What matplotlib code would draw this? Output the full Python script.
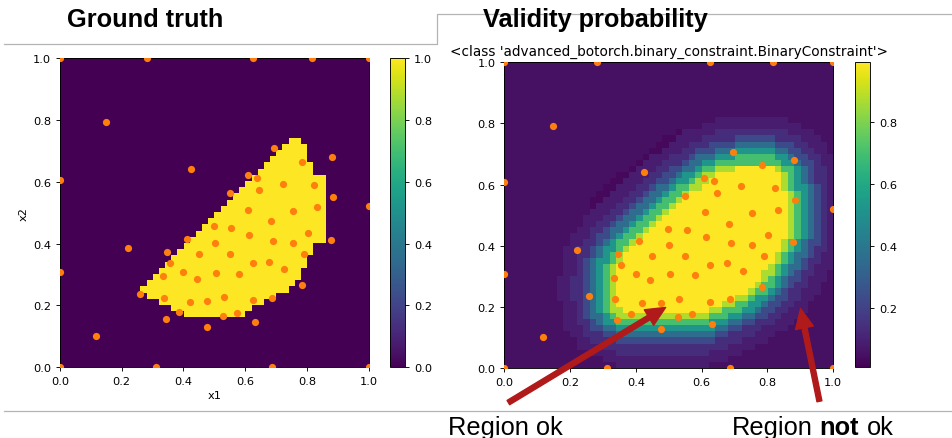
import numpy as np
import matplotlib
matplotlib.use('Agg')
import matplotlib.pyplot as plt
from matplotlib.path import Path
from matplotlib.patches import FancyArrowPatch

# sampled points (same in both panels)
pts_x = [0.0, 0.281, 0.626, 0.816, 1.0, 0.148, 0.424, 0.0, 0.694, 0.881, 0.784,
         0.608, 0.637, 0.721, 0.824, 0.646, 0.550, 0.883, 1.0, 0.832, 0.610,
         0.754, 0.684, 0.499, 0.555, 0.803, 0.612, 0.411, 0.879, 0.689, 0.501,
         0.754, 0.220, 0.346, 0.449, 0.550, 0.789, 0.355, 0.626, 0.677, 0.0,
         0.727, 0.400, 0.504, 0.580, 0.333, 0.444, 0.784, 0.258, 0.338, 0.531,
         0.687, 0.420, 0.475, 0.626, 0.384, 0.572, 0.528, 0.343, 0.632, 0.477,
         0.118, 0.0, 0.311, 0.687, 1.0]
pts_y = [1.0, 1.0, 1.0, 1.0, 1.0, 0.793, 0.640, 0.607, 0.708, 0.681, 0.665,
         0.621, 0.613, 0.594, 0.588, 0.572, 0.564, 0.550, 0.520, 0.518, 0.509,
         0.506, 0.472, 0.456, 0.452, 0.435, 0.429, 0.414, 0.412, 0.409, 0.401,
         0.401, 0.387, 0.372, 0.366, 0.366, 0.366, 0.338, 0.336, 0.342, 0.309,
         0.317, 0.309, 0.306, 0.303, 0.294, 0.287, 0.265, 0.237, 0.224, 0.226,
         0.224, 0.211, 0.213, 0.217, 0.178, 0.176, 0.167, 0.156, 0.145, 0.129,
         0.102, 0.0, 0.0, 0.0, 0.0]

# ground truth feasible region outline
gt_x = [0.76, 0.775, 0.795, 0.815, 0.835, 0.856, 0.856, 0.835, 0.815, 0.795,
        0.775, 0.755, 0.735, 0.695, 0.655, 0.61, 0.61, 0.405, 0.365, 0.325,
        0.285, 0.265, 0.265]
gt_y = [0.757, 0.74, 0.715, 0.655, 0.615, 0.61, 0.405, 0.405, 0.365, 0.33,
        0.285, 0.265, 0.245, 0.225, 0.205, 0.185, 0.163, 0.163, 0.185, 0.205,
        0.225, 0.245, 0.265]

# validity probability: outline of the yellow core, then bands going outward
core_x = [0.335, 0.35, 0.40, 0.46, 0.52, 0.58, 0.635, 0.70, 0.81, 0.845, 0.86,
          0.855, 0.82, 0.78, 0.72, 0.635, 0.57, 0.39, 0.345]
core_y = [0.26, 0.345, 0.41, 0.47, 0.53, 0.58, 0.625, 0.65, 0.65, 0.62, 0.52,
          0.44, 0.365, 0.295, 0.24, 0.195, 0.172, 0.172, 0.195]
band_dist = [0.0, 0.02, 0.04, 0.06, 0.08, 0.10, 0.13, 0.17]
band_prob = [0.99, 0.87, 0.70, 0.52, 0.36, 0.23, 0.14, 0.09]
bg_prob = 0.055
dark_x = [0.25, 0.55, 0.55, 0.40, 0.25]
dark_y = [0.55, 0.80, 0.62, 0.45, 0.45]
dark_prob = 0.03

ticks = [0.0, 0.2, 0.4, 0.6, 0.8, 1.0]

n = 50
c = (np.arange(n) + 0.5) / n
gx, gy = np.meshgrid(c, c)
cells = np.column_stack([gx.ravel(), gy.ravel()])

gt = Path(np.column_stack([gt_x, gt_y])).contains_points(cells).reshape(n, n).astype(float)

core = np.column_stack([core_x, core_y])
inside = Path(core).contains_points(cells)
a = core[None, :, :]
ab = np.roll(core, -1, axis=0)[None, :, :] - a
p = cells[:, None, :]
t = np.clip(((p - a) * ab).sum(-1) / (ab ** 2).sum(-1), 0, 1)
dmin = np.sqrt(((p - a - t[..., None] * ab) ** 2).sum(-1)).min(axis=1)
dist = np.where(inside, 0.0, dmin)

prob = np.full(n * n, bg_prob)
prob[Path(np.column_stack([dark_x, dark_y])).contains_points(cells)] = dark_prob
for dd, pv in reversed(list(zip(band_dist, band_prob))):
    prob[dist <= dd] = pv
prob = prob.reshape(n, n)

fig = plt.figure(figsize=(9.52, 4.39), dpi=100)

ax1 = fig.add_axes([0.0630, 0.161, 0.3243, 0.7046])
cax1 = fig.add_axes([0.4097, 0.161, 0.01576, 0.7046])
ax2 = fig.add_axes([0.5297, 0.1595, 0.3456, 0.6964])
cax2 = fig.add_axes([0.898, 0.1606, 0.01576, 0.6948])

im1 = ax1.imshow(gt, origin='lower', extent=[0, 1, 0, 1], cmap='viridis',
                 vmin=0, vmax=1, aspect='auto')
im2 = ax2.imshow(prob, origin='lower', extent=[0, 1, 0, 1], cmap='viridis',
                 vmin=0.01, vmax=0.99, aspect='auto')
for ax in (ax1, ax2):
    ax.scatter(pts_x, pts_y, s=27, color='#ff7f0e', zorder=3, linewidths=0)
    ax.set_xlim(0, 1)
    ax.set_ylim(0, 1)
    ax.set_xticks(ticks)
    ax.set_yticks(ticks)
    ax.tick_params(labelsize=8.2, length=2.9, width=0.65)
    for s in ax.spines.values():
        s.set_linewidth(0.65)

ax1.set_xlabel('x1', fontsize=8.2, labelpad=3)
ax1.set_ylabel('x2', fontsize=8.2, labelpad=3)
ax2.set_title("<class 'advanced_botorch.binary_constraint.BinaryConstraint'>",
              fontsize=9.8, pad=5.5)

for im, cax in ((im1, cax1), (im2, cax2)):
    cb = fig.colorbar(im, cax=cax)
    cb.ax.tick_params(labelsize=8.2, length=2.9, width=0.65)
    cb.outline.set_linewidth(0.65)

# slide decorations in pixel coords
ov = fig.add_axes([0, 0, 1, 1], zorder=10)
ov.set_xlim(0, 952)
ov.set_ylim(439, 0)
ov.axis('off')
ov.patch.set_alpha(0)

grey = '#b4b4b4'
ov.plot([4, 437.3, 437.3, 952], [45, 45, 15, 15], color=grey, lw=0.9)
ov.plot([4, 952], [412.3, 412.3], color=grey, lw=0.9)

ov.text(67, 27, 'Ground truth', fontsize=18.3, fontweight='bold',
        family='Liberation Sans', va='baseline')
ov.text(483, 27, 'Validity probability', fontsize=18.3, fontweight='bold',
        family='Liberation Sans', va='baseline')
ov.text(448, 435, 'Region ok', fontsize=18.3, family='Liberation Sans', va='baseline')
ov.text(731.7, 435, 'Region', fontsize=18.3, family='Liberation Sans', va='baseline')
ov.text(819, 435, 'not', fontsize=18.3, fontweight='bold', family='Liberation Sans',
        va='baseline')
ov.text(866.7, 435, 'ok', fontsize=18.3, family='Liberation Sans', va='baseline')

red = '#b01a1a'
for tail, tip in (((506, 405), (668, 307)), ((820, 405), (800, 307))):
    ov.add_patch(FancyArrowPatch(tail, tip, color=red, mutation_scale=1,
                                 arrowstyle='simple,tail_width=3.6,head_width=13,head_length=14'))

fig.savefig('out.png', dpi=100)
